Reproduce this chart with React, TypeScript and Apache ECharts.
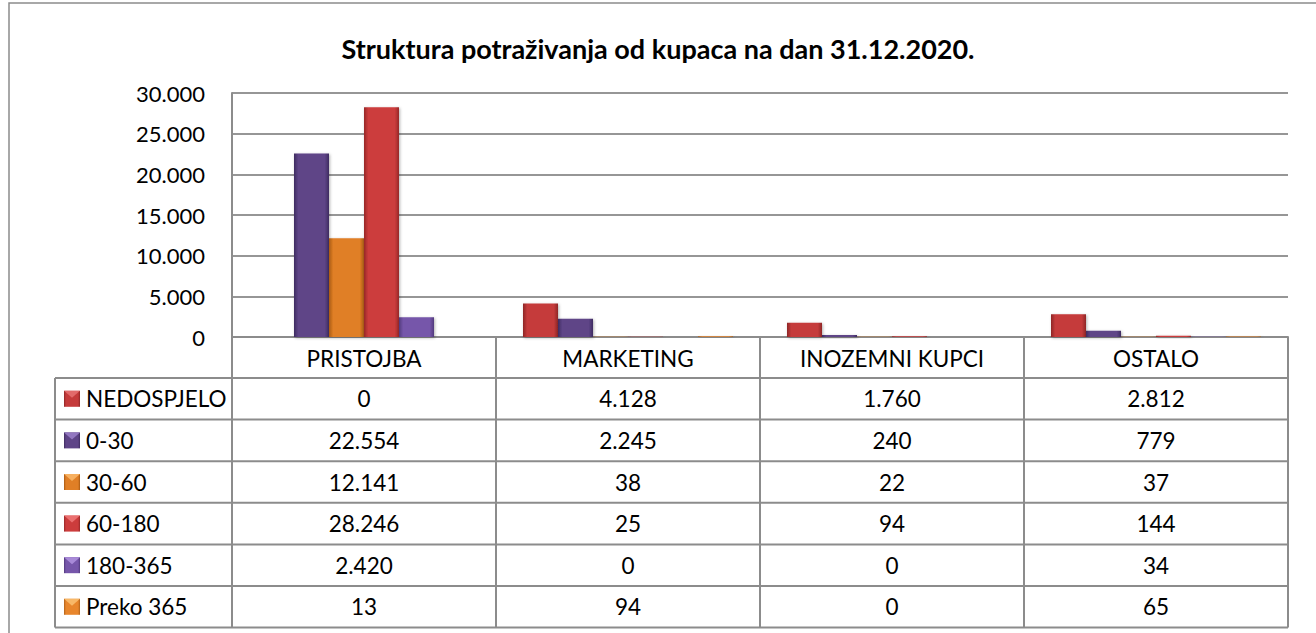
import React, { useEffect, useRef } from "react";
import * as echarts from "echarts";

const categories = ["PRISTOJBA", "MARKETING", "INOZEMNI KUPCI", "OSTALO"];
const seriesNames = ["NEDOSPJELO", "0-30", "30-60", "60-180", "180-365", "Preko 365"];
const nedospjelo = [0, 4128, 1760, 2812];
const d0_30 = [22554, 2245, 240, 779];
const d30_60 = [12141, 38, 22, 37];
const d60_180 = [28246, 25, 94, 144];
const d180_365 = [2420, 0, 0, 34];
const preko365 = [13, 94, 0, 65];
const seriesData = [nedospjelo, d0_30, d30_60, d60_180, d180_365, preko365];
const yMax = 30000;
const yStep = 5000;

const palette = [
  { base: "#c53b3b", dark: "#8e2626", light: "#e26a6a" },
  { base: "#5e4487", dark: "#3f2c60", light: "#9277c0" },
  { base: "#e07f26", dark: "#a85a14", light: "#f7b060" },
  { base: "#cc3c3c", dark: "#962828", light: "#eb7070" },
  { base: "#7656aa", dark: "#523a7d", light: "#a88ad8" },
  { base: "#e8862c", dark: "#b0621a", light: "#f8b868" },
];

const FONT = "Lato, 'Open Sans', sans-serif";
const GRID_LEFT = 232;
const GRID_RIGHT = 1288;
const GRID_TOP = 93;
const AXIS_Y = 337;
const TABLE_LEFT = 55;
const HEADER_BOTTOM = 378;
const ROW_H = 41.6;
const LINE = "#8c8c8c";
const TXT = 22.5;

const fmt = (n: number) => String(n).replace(/\B(?=(\d{3})+(?!\d))/g, ".");

const hGrad = (p: { base: string; dark: string; light: string }) =>
  new echarts.graphic.LinearGradient(0, 0, 1, 0, [
    { offset: 0, color: p.dark },
    { offset: 0.12, color: p.base },
    { offset: 0.5, color: p.base },
    { offset: 0.88, color: p.base },
    { offset: 1, color: p.dark },
  ]);

export default function App() {
  const ref = useRef<HTMLDivElement>(null);
  useEffect(() => {
    document.body.style.margin = "0";
    const chart = echarts.init(ref.current!, null, { renderer: "svg" });
    const colW = (GRID_RIGHT - GRID_LEFT) / categories.length;
    const tableBottom = HEADER_BOTTOM + ROW_H * seriesNames.length;
    const graphics: any[] = [];
    graphics.push({
      type: "rect",
      shape: { x: 9, y: 3, width: 1400, height: 700 },
      style: { fill: "none", stroke: "#8c8c8c", lineWidth: 1.5 },
      silent: true,
    });
    graphics.push({ type: "line", shape: { x1: GRID_LEFT, y1: AXIS_Y, x2: GRID_LEFT, y2: tableBottom }, style: { stroke: LINE, lineWidth: 2 } });
    graphics.push({ type: "line", shape: { x1: TABLE_LEFT, y1: HEADER_BOTTOM, x2: TABLE_LEFT, y2: tableBottom }, style: { stroke: LINE, lineWidth: 2 } });
    for (let c = 1; c <= categories.length; c++) {
      const x = GRID_LEFT + colW * c;
      graphics.push({ type: "line", shape: { x1: x, y1: AXIS_Y, x2: x, y2: tableBottom }, style: { stroke: LINE, lineWidth: 2 } });
    }
    for (let r = 0; r <= seriesNames.length; r++) {
      const y = HEADER_BOTTOM + ROW_H * r;
      graphics.push({ type: "line", shape: { x1: TABLE_LEFT, y1: y, x2: GRID_RIGHT, y2: y }, style: { stroke: LINE, lineWidth: 2 } });
    }
    seriesNames.forEach((name, r) => {
      const cy = HEADER_BOTTOM + ROW_H * r + ROW_H / 2;
      const p = palette[r];
      graphics.push({
        type: "rect",
        shape: { x: 64, y: cy - 8, width: 16, height: 16 },
        style: { fill: hGrad(p) },
      });
      graphics.push({
        type: "polygon",
        shape: { points: [[64, cy - 8], [80, cy - 8], [72, cy - 1]] },
        style: { fill: p.light },
      });
      graphics.push({
        type: "text",
        x: 86,
        y: cy,
        style: { text: name, fontSize: TXT, fontFamily: FONT, fill: "#000", textAlign: "left", textVerticalAlign: "middle" },
      });
      seriesData[r].forEach((v, c) => {
        graphics.push({
          type: "text",
          x: GRID_LEFT + colW * c + colW / 2,
          y: cy,
          style: { text: fmt(v), fontSize: TXT, fontFamily: FONT, fill: "#000", textAlign: "center", textVerticalAlign: "middle" },
        });
      });
    });

    chart.setOption({
      animation: false,
      backgroundColor: "#fff",
      title: {
        text: "Struktura potraživanja od kupaca na dan 31.12.2020.",
        left: "center",
        top: 30,
        textStyle: { fontSize: 27, fontWeight: "bold", fontFamily: FONT, color: "#000" },
      },
      grid: { left: GRID_LEFT, right: 1316 - GRID_RIGHT, top: GRID_TOP, bottom: 633 - AXIS_Y, containLabel: false },
      xAxis: {
        type: "category",
        data: categories,
        axisLine: { show: true, lineStyle: { color: LINE, width: 2 } },
        axisTick: { show: false },
        axisLabel: { margin: 21, verticalAlign: "middle", fontSize: TXT, fontFamily: FONT, color: "#000" },
      },
      yAxis: {
        type: "value",
        min: 0,
        max: yMax,
        interval: yStep,
        axisLine: { show: true, lineStyle: { color: LINE, width: 2 } },
        axisTick: { show: false },
        splitLine: { show: true, lineStyle: { color: "#969696", width: 2 } },
        axisLabel: { margin: 27, fontSize: 22, fontFamily: FONT, color: "#000", formatter: (v: number) => fmt(v) },
      },
      series: seriesNames.map((name, i) => ({
        name,
        type: "bar",
        data: seriesData[i],
        barWidth: 35,
        barGap: "0%",
        itemStyle: {
          color: hGrad(palette[i]),
          shadowBlur: 3,
          shadowColor: "rgba(0,0,0,0.3)",
          shadowOffsetX: 1,
          shadowOffsetY: 1,
        },
      })),
      graphic: graphics,
    });
    return () => chart.dispose();
  }, []);
  return <div ref={ref} style={{ width: 1316, height: 633 }} />;
}
